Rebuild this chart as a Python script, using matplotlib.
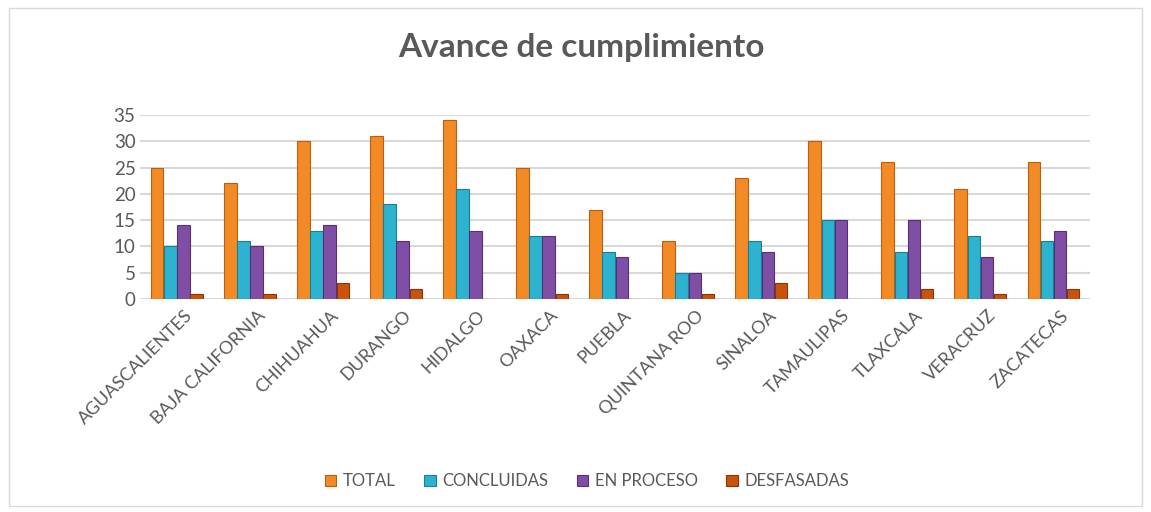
import numpy as np
from matplotlib import pyplot as plt
from matplotlib.patches import Rectangle

# Datos del gráfico
estados = ["AGUASCALIENTES", "BAJA CALIFORNIA", "CHIHUAHUA", "DURANGO", "HIDALGO",
           "OAXACA", "PUEBLA", "QUINTANA ROO", "SINALOA", "TAMAULIPAS",
           "TLAXCALA", "VERACRUZ", "ZACATECAS"]
total = [25, 22, 30, 31, 34, 25, 17, 11, 23, 30, 26, 21, 26]
concluidas = [10, 11, 13, 18, 21, 12, 9, 5, 11, 15, 9, 12, 11]
en_proceso = [14, 10, 14, 11, 13, 12, 8, 5, 9, 15, 15, 8, 13]
desfasadas = [1, 1, 3, 2, 0, 1, 0, 1, 3, 0, 2, 1, 2]

series = [
    ("TOTAL", total, "#F28A26", "#B85F10"),
    ("CONCLUIDAS", concluidas, "#2DB3CF", "#1A7F96"),
    ("EN PROCESO", en_proceso, "#7F4FA6", "#553075"),
    ("DESFASADAS", desfasadas, "#C9530C", "#8A3505"),
]

plt.rcParams["font.family"] = ["Lato", "DejaVu Sans"]
gris = "#595959"

fig = plt.figure(figsize=(11.51, 5.12), dpi=100)
fig.patches.append(Rectangle((0.008, 0.012), 0.984, 0.973, transform=fig.transFigure,
                             fill=False, edgecolor="#D9D9D9", linewidth=1))
ax = fig.add_axes([0.122, 0.416, 0.825, 0.359])

x = np.arange(len(estados))
ancho = 0.18
for i, (nombre, valores, color, borde) in enumerate(series):
    ax.bar(x + (i - 1.5) * ancho, valores, ancho * 0.95, color=color,
           edgecolor=borde, linewidth=0.8, label=nombre, zorder=3)

ax.set_ylim(0, 35)
ax.set_xlim(-0.5, len(estados) - 0.5)
ax.set_yticks(range(0, 36, 5))
ax.grid(axis="y", color="#D9D9D9", linewidth=1.5, zorder=0)
for s in ax.spines.values():
    s.set_visible(False)
ax.tick_params(length=0, colors=gris, labelsize=13.5)
ax.tick_params(axis="x", pad=6)
ax.set_xticks(x + 0.1)
ax.set_xticklabels(estados, rotation=45, ha="right", rotation_mode="anchor",
                   fontsize=13, color=gris)

fig.suptitle("Avance de cumplimiento", x=0.505, y=0.935, fontsize=24,
             fontweight="bold", color=gris)

fig.legend(loc="center", bbox_to_anchor=(0.51, 0.06), ncol=4, frameon=False,
           fontsize=12, labelcolor=gris, handlelength=0.7, handleheight=0.7,
           columnspacing=1.7, handletextpad=0.4)

fig.savefig("out.png")
